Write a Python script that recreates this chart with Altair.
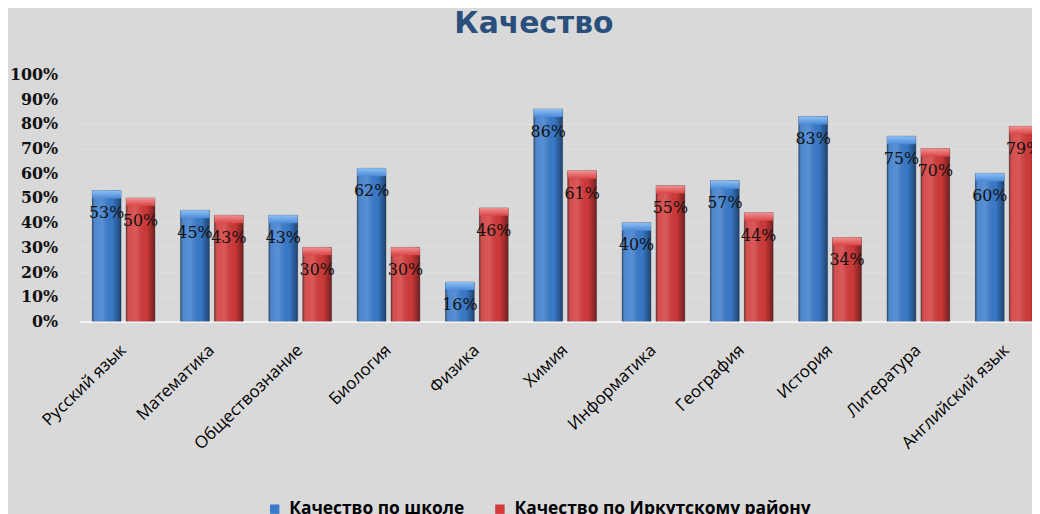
import altair as alt
import pandas as pd

subjects = ["Русский язык", "Математика", "Обществознание", "Биология", "Физика",
            "Химия", "Информатика", "География", "История", "Литература", "Английский язык"]
series = ["Качество по школе", "Качество по Иркутскому району"]
school = [53, 45, 43, 62, 16, 86, 40, 57, 83, 75, 60]
district = [50, 43, 30, 30, 46, 61, 55, 44, 34, 70, 79]
y_ticks = [0, 0.1, 0.2, 0.3, 0.4, 0.5, 0.6, 0.7, 0.8, 0.9, 1.0]

rows = []
for s, a, b in zip(subjects, school, district):
    rows.append({"subject": s, "series": series[0], "value": a / 100})
    rows.append({"subject": s, "series": series[1], "value": b / 100})
df = pd.DataFrame(rows)

BLUE = "#3a7bcb"
RED = "#d23a3a"

x_enc = alt.X("subject:N", sort=subjects,
              scale=alt.Scale(range=[0, 979], paddingInner=0.29, paddingOuter=0.145),
              axis=alt.Axis(title=None, labelAngle=-44, labelAlign="right", labelBaseline="middle",
                            labelFont="Open Sans", labelFontSize=17, labelColor="#000000",
                            labelPadding=26, ticks=False, domainColor="#f4f4f4", domainWidth=2,
                            labelOverlap=False, labelLimit=0))
xo_enc = alt.XOffset("series:N", sort=series,
                     scale=alt.Scale(domain=series, paddingInner=0.15))
y_axis = alt.Axis(title=None, values=y_ticks, format=".0%",
                  labelFont="DejaVu Serif", labelFontSize=16, labelFontWeight="bold",
                  labelColor="#111111", labelPadding=22, ticks=False, domain=False,
                  labelOverlap=False, labelSeparation=0,
                  grid=True, gridColor="#dfdfdf", gridWidth=1)
y_enc = alt.Y("value:Q", scale=alt.Scale(domain=[0, 1], nice=False), axis=y_axis)

base = alt.Chart(df).encode(x=x_enc, xOffset=xo_enc)

bars = base.mark_bar(clip=True, stroke="#1a2a40", strokeOpacity=0.35, strokeWidth=1).encode(
    y=y_enc,
    y2=alt.datum(0),
    color=alt.Color("series:N", sort=series,
                    scale=alt.Scale(domain=series, range=[BLUE, RED]),
                    legend=alt.Legend(orient="none", legendX=188, legendY=429,
                                      direction="horizontal", title=None,
                                      symbolType="square", symbolSize=90,
                                      symbolStrokeWidth=0, labelLimit=0,
                                      labelFont="Open Sans", labelFontSize=17.5,
                                      labelFontWeight="bold", labelColor="#000000",
                                      labelOffset=6, columnPadding=27))
)

shade = base.mark_bar(clip=True, fill=alt.Gradient(
    gradient="linear", x1=0, x2=1, y1=0, y2=0,
    stops=[alt.GradientStop(offset=0, color="rgba(0,0,0,0.40)"),
           alt.GradientStop(offset=0.12, color="rgba(255,255,255,0.10)"),
           alt.GradientStop(offset=0.35, color="rgba(255,255,255,0.16)"),
           alt.GradientStop(offset=0.70, color="rgba(0,0,0,0.02)"),
           alt.GradientStop(offset=1, color="rgba(0,0,0,0.45)")])).encode(
    y=y_enc, y2=alt.datum(0)
)

cap_blue = base.transform_filter(alt.datum.series == series[0]).mark_bar(
    clip=True, y2Offset=8, fill=alt.Gradient(
        gradient="linear", x1=0, x2=0, y1=0, y2=1,
        stops=[alt.GradientStop(offset=0, color="#8fc0f5"),
               alt.GradientStop(offset=1, color="#4a8ad8")])).encode(
    y=y_enc, y2=alt.Y2("value:Q")
)
cap_red = base.transform_filter(alt.datum.series == series[1]).mark_bar(
    clip=True, y2Offset=8, fill=alt.Gradient(
        gradient="linear", x1=0, x2=0, y1=0, y2=1,
        stops=[alt.GradientStop(offset=0, color="#f29090"),
               alt.GradientStop(offset=1, color="#d84545")])).encode(
    y=y_enc, y2=alt.Y2("value:Q")
)

labels = base.mark_text(clip=True, dy=23, font="DejaVu Serif", fontSize=16,
                        color="#111111", baseline="middle", align="center").encode(
    y=y_enc,
    text=alt.Text("value:Q", format=".0%")
)

chart = alt.layer(bars, shade, cap_blue, cap_red, labels).properties(
    width=960, height=249,
    autosize=alt.AutoSizeParams(type="none"),
    padding={"left": 72, "top": 65, "right": 0, "bottom": 192},
    background="#d9d9d9",
    title=alt.TitleParams(text="Качество", font="DejaVu Sans", fontSize=30,
                          fontWeight="bold", color="#2a4f7d", anchor="middle",
                          frame="group", dx=-22, offset=28)
).configure_view(stroke=None)

chart.save("out.html", embed_options={"renderer": "svg", "actions": False})
